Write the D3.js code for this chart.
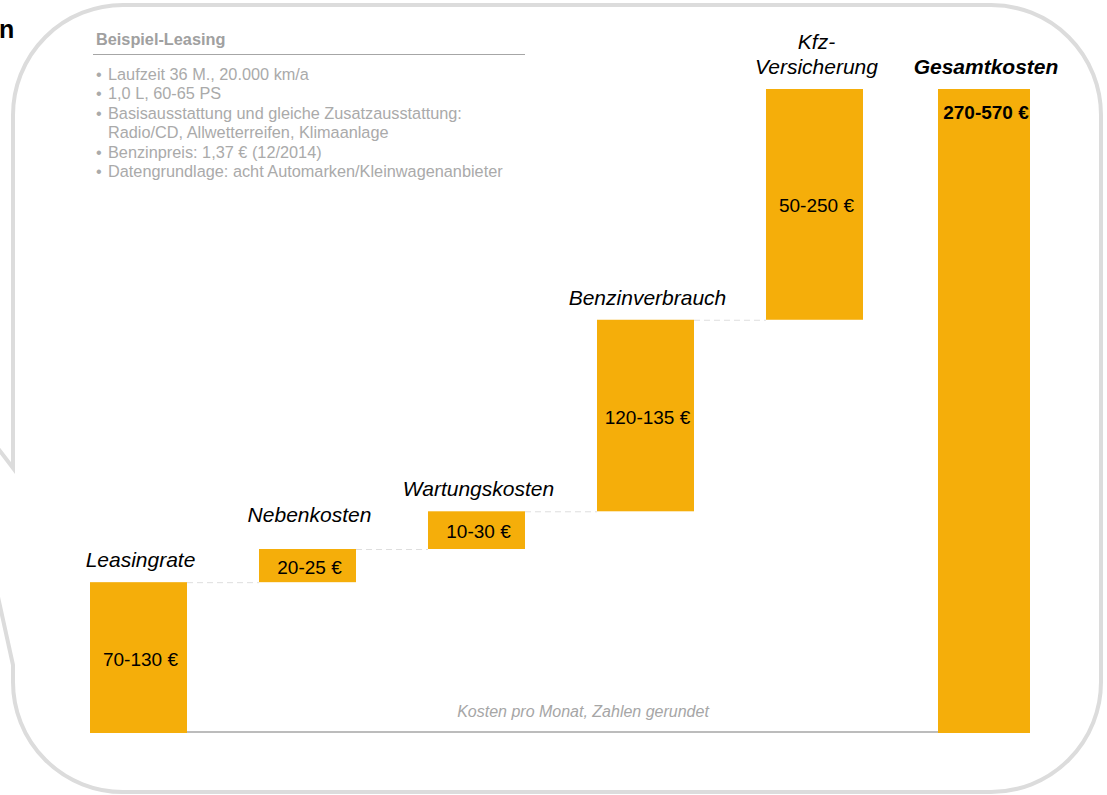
<!DOCTYPE html>
<meta charset="utf-8">
<style>
body { margin: 0; background: #fff; }
svg { display: block; font-family: "Liberation Sans", Arial, sans-serif; }
.bubble { fill: none; stroke: #dcdcdc; stroke-width: 4px; }
.bar { fill: #f5ae0a; }
.connector { stroke: #dedede; stroke-width: 1px; stroke-dasharray: 6,4; }
.baseline { stroke: #a6a6a6; stroke-width: 1.5px; }
.cat { font-size: 21px; font-style: italic; fill: #000; }
.val { font-size: 19px; fill: #000; }
.info { font-size: 16.3px; fill: #aaaaaa; }
.note { font-size: 16px; font-style: italic; fill: #a6a6a6; }
</style>
<body>
<script src="https://d3js.org/d3.v7.min.js"></script>
<script>

//
// Data
//

var categories = ["Leasingrate", "Nebenkosten", "Wartungskosten", "Benzinverbrauch", "Kfz-Versicherung", "Gesamtkosten"];
var catLines = [["Leasingrate"], ["Nebenkosten"], ["Wartungskosten"], ["Benzinverbrauch"], ["Kfz-", "Versicherung"], ["Gesamtkosten"]];
// bar heights (euro per month, rough)
var steps = [100, 22, 25, 127, 153];
var rangeLabels = ["70-130 €", "20-25 €", "10-30 €", "120-135 €", "50-250 €", "270-570 €"];

var infoTitle = "Beispiel-Leasing";
var infoBullets = [
  ["Laufzeit 36 M., 20.000 km/a"],
  ["1,0 L, 60-65 PS"],
  ["Basisausstattung und gleiche Zusatzausstattung:", "Radio/CD, Allwetterreifen, Klimaanlage"],
  ["Benzinpreis: 1,37 € (12/2014)"],
  ["Datengrundlage: acht Automarken/Kleinwagenanbieter"]
];
var note = "Kosten pro Monat, Zahlen gerundet";

//
// Waterfall rows
//

var total = d3.sum(steps);
var rows = [];
var run = 0;
steps.forEach(function(v, i) {
  rows.push({cat: categories[i], y0: run, y1: run + v, label: rangeLabels[i], lines: catLines[i], total: false});
  run += v;
});
rows.push({cat: categories[5], y0: 0, y1: total, label: rangeLabels[5], lines: catLines[5], total: true});

//
// Scales
//

var width = 1107, height = 795;

var x = d3.scaleBand()
    .domain(categories)
    .range([90, 1032])
    .paddingInner(0.426)
    .paddingOuter(0);

var y = d3.scaleLinear()
    .domain([0, total])
    .range([733, 89]);

// the total bar is a little narrower than the steps
function barX(d) { return d.total ? x(d.cat) + 3 : x(d.cat); }
function barW(d) { return d.total ? x.bandwidth() - 5 : x.bandwidth(); }

var svg = d3.select("body").append("svg")
    .attr("width", width)
    .attr("height", height);

//
// Speech bubble frame
//

var bl = 13, br = 1101, bt = 5, bb = 792, r = 110;
var p = d3.path();
p.moveTo(bl + r, bt);
p.lineTo(br - r, bt);
p.arcTo(br, bt, br, bt + r, r);
p.lineTo(br, bb - r);
p.arcTo(br, bb, br - r, bb, r);
p.lineTo(bl + r, bb);
p.arcTo(bl, bb, bl, bb - r, r);
p.lineTo(bl, 665);
p.lineTo(-48, 388);
p.lineTo(bl, 468);
p.lineTo(bl, bt + r);
p.arcTo(bl, bt, bl + r, bt, r);
p.closePath();

svg.append("path")
    .attr("class", "bubble")
    .attr("d", p.toString());

// end of the title, left of the bubble
svg.append("text")
    .attr("x", -1)
    .attr("y", 38)
    .attr("font-size", "25px")
    .attr("font-weight", "bold")
    .text("n");

//
// Info box
//

var info = svg.append("g").attr("transform", "translate(96,0)");

info.append("text")
    .attr("x", 0)
    .attr("y", 45)
    .attr("font-size", "16.3px")
    .attr("font-weight", "bold")
    .attr("fill", "#a0a0a0")
    .text(infoTitle);

info.append("line")
    .attr("x1", -3).attr("x2", 429)
    .attr("y1", 54.5).attr("y2", 54.5)
    .attr("stroke", "#a6a6a6")
    .attr("stroke-width", 1);

var lineY = 80;
infoBullets.forEach(function(b) {
  info.append("text")
      .attr("class", "info")
      .attr("x", 0)
      .attr("y", lineY)
      .attr("font-size", "12px")
      .text("•");
  b.forEach(function(t) {
    info.append("text")
        .attr("class", "info")
        .attr("x", 12)
        .attr("y", lineY)
        .text(t);
    lineY += 19.4;
  });
});

//
// Bars
//

var chart = svg.append("g");

chart.append("line")
    .attr("class", "baseline")
    .attr("x1", 90)
    .attr("x2", 1030)
    .attr("y1", y(0) - 1)
    .attr("y2", y(0) - 1);

// dashed connectors between steps
chart.selectAll(".connector")
    .data(rows.slice(0, rows.length - 2))
    .enter().append("line")
    .attr("class", "connector")
    .attr("x1", function(d) { return x(d.cat) + x.bandwidth(); })
    .attr("x2", function(d, i) { return x(categories[i + 1]); })
    .attr("y1", function(d) { return y(d.y1) + 0.5; })
    .attr("y2", function(d) { return y(d.y1) + 0.5; });

chart.selectAll(".bar")
    .data(rows)
    .enter().append("rect")
    .attr("class", "bar")
    .attr("x", barX)
    .attr("y", function(d) { return y(d.y1); })
    .attr("width", barW)
    .attr("height", function(d) { return y(d.y0) - y(d.y1); });

// value labels
chart.selectAll(".val")
    .data(rows)
    .enter().append("text")
    .attr("class", "val")
    .attr("text-anchor", "middle")
    .attr("font-weight", function(d) { return d.total ? "bold" : null; })
    .attr("x", function(d) { return barX(d) + barW(d) / 2 + 2; })
    .attr("y", function(d) { return d.total ? y(d.y1) + 30 : (y(d.y0) + y(d.y1)) / 2 + 8; })
    .text(function(d) { return d.label; });

// category labels above each bar
var labelLift = {"Nebenkosten": 12};

rows.forEach(function(d) {
  var n = d.lines.length;
  var base = y(d.y1) - 15 - (labelLift[d.cat] || 0);
  d.lines.forEach(function(t, j) {
    chart.append("text")
        .attr("class", "cat")
        .attr("text-anchor", "middle")
        .attr("font-weight", d.total ? "bold" : null)
        .attr("x", barX(d) + barW(d) / 2 + 2)
        .attr("y", base - (n - 1 - j) * 25)
        .text(t);
  });
});

// footnote
svg.append("text")
    .attr("class", "note")
    .attr("text-anchor", "middle")
    .attr("x", 583)
    .attr("y", 717)
    .text(note);

</script>
</body>
